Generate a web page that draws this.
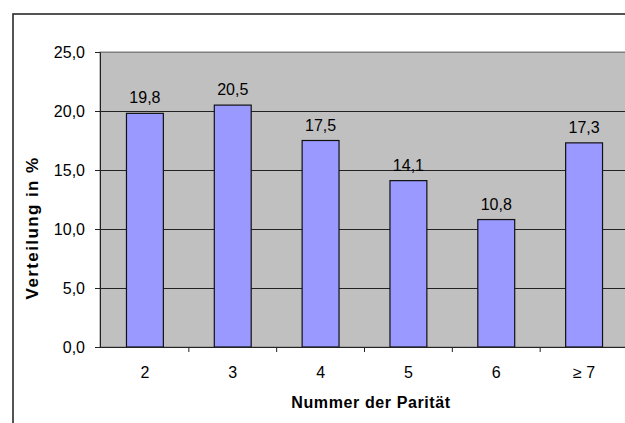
<!DOCTYPE html>
<html>
<head>
<meta charset="utf-8">
<script src="https://cdn.jsdelivr.net/npm/d3@7"></script>
<style>
  body { margin: 0; background: #fff; }
  svg { display: block; font-family: 'Liberation Sans', Arial, sans-serif; }
</style>
</head>
<body>
<div id="chart"></div>
<script>
const categories = ['2', '3', '4', '5', '6', '≥ 7']
const values = [19.8, 20.5, 17.5, 14.1, 10.8, 17.3]
const yTicks = [0, 5, 10, 15, 20, 25]

const width = 625
const height = 423
const plot = { left: 100, top: 52, right: 628, bottom: 347 }

const svg = d3
  .select('#chart')
  .append('svg')
  .attr('width', width)
  .attr('height', height)

// outer frame (runs off the right and bottom edge)
svg
  .append('rect')
  .attr('x', 13)
  .attr('y', 14)
  .attr('width', 700)
  .attr('height', 500)
  .attr('fill', 'none')
  .attr('stroke', '#2a2a2a')
  .attr('stroke-width', 1.6)

const x = d3
  .scaleBand()
  .domain(categories)
  .range([plot.left + 1, plot.right])
  .paddingInner(0.58)
  .paddingOuter(0.29)

const xBand = d3
  .scaleBand()
  .domain(categories)
  .range([plot.left + 1, plot.right])

const y = d3
  .scaleLinear()
  .domain([0, 25])
  .range([plot.bottom, plot.top])

// plot background
svg
  .append('rect')
  .attr('x', plot.left)
  .attr('y', plot.top)
  .attr('width', plot.right - plot.left)
  .attr('height', plot.bottom - plot.top)
  .attr('fill', '#c0c0c0')
  .attr('stroke', '#808080')
  .attr('stroke-width', 1)

// gridlines
svg
  .selectAll('.grid')
  .data(yTicks.slice(1))
  .enter()
  .append('line')
  .attr('class', 'grid')
  .attr('x1', plot.left)
  .attr('x2', plot.right)
  .attr('y1', d => Math.round(y(d)) + 0.5)
  .attr('y2', d => Math.round(y(d)) + 0.5)
  .attr('stroke', d => (d === 25 ? '#808080' : '#222'))
  .attr('stroke-width', 1)

// bars
svg
  .selectAll('.bar')
  .data(values)
  .enter()
  .append('rect')
  .attr('class', 'bar')
  .attr('x', (d, i) => x(categories[i]))
  .attr('y', d => y(d))
  .attr('width', x.bandwidth())
  .attr('height', d => y(0) - y(d))
  .attr('fill', '#9999ff')
  .attr('stroke', '#111')
  .attr('stroke-width', 1.2)

// value labels
svg
  .selectAll('.label')
  .data(values)
  .enter()
  .append('text')
  .attr('class', 'label')
  .attr('x', (d, i) => x(categories[i]) + x.bandwidth() / 2)
  .attr('y', d => y(d) - 10)
  .attr('text-anchor', 'middle')
  .style('font-size', '16px')
  .text(d => d3.format('.1f')(d).replace('.', ','))

// y axis
const yAxis = d3
  .axisLeft(y)
  .tickValues(yTicks)
  .tickSize(5)
  .tickPadding(10)
  .tickFormat(d => d3.format('.1f')(d).replace('.', ','))
const yg = svg
  .append('g')
  .attr('transform', 'translate(' + plot.left + ',0)')
  .call(yAxis)
yg.selectAll('path').attr('stroke', '#222')
yg.selectAll('line').attr('stroke', '#222')
yg.selectAll('text').style('font-size', '16px').attr('fill', '#000')

// x axis: ticks sit between categories
const xAxis = d3
  .axisBottom(xBand)
  .tickSize(0)
  .tickPadding(20)
const xg = svg
  .append('g')
  .attr('transform', 'translate(0,' + plot.bottom + ')')
  .call(xAxis)
xg.select('path').attr('stroke', '#222').attr('d', 'M' + plot.left + ',0.5H' + plot.right)
xg.selectAll('text').style('font-size', '16px').attr('fill', '#000')
xg
  .selectAll('.sep')
  .data(categories.slice(1))
  .enter()
  .append('line')
  .attr('class', 'sep')
  .attr('x1', d => xBand(d))
  .attr('x2', d => xBand(d))
  .attr('y1', 0)
  .attr('y2', 5)
  .attr('stroke', '#222')

// axis titles
svg
  .append('text')
  .attr('x', 371)
  .attr('y', 408)
  .attr('text-anchor', 'middle')
  .style('font-size', '16px')
  .style('font-weight', 'bold')
  .style('letter-spacing', '0.6px')
  .text('Nummer der Parität')

svg
  .append('text')
  .attr('transform', 'translate(38,228) rotate(-90)')
  .attr('text-anchor', 'middle')
  .style('font-size', '17px')
  .style('font-weight', 'bold')
  .style('letter-spacing', '1.4px')
  .text('Verteilung in %')
</script>
</body>
</html>
